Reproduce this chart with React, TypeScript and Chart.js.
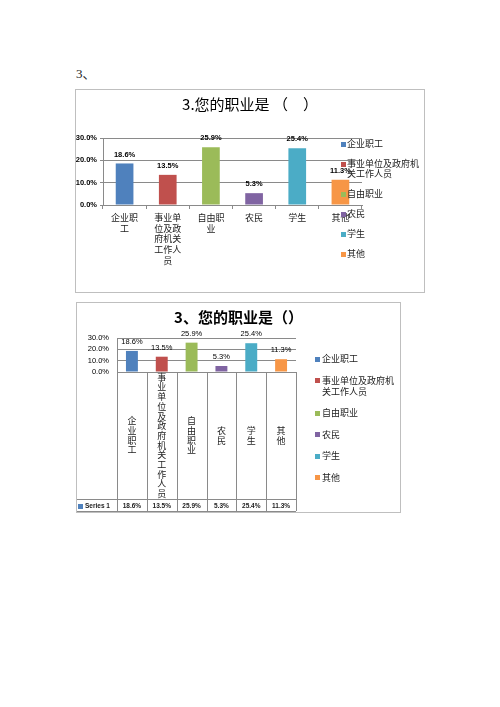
import React, { useEffect, useRef } from 'react';
import { Chart, registerables } from 'chart.js';

Chart.register(...registerables);

// --- data ---
const categories = ['企业职工', '事业单位及政府机关工作人员', '自由职业', '农民', '学生', '其他'];
const shares = [18.6, 13.5, 25.9, 5.3, 25.4, 11.3];
const barColors = ['#4F81BD', '#C0504D', '#9BBB59', '#8064A2', '#4BACC6', '#F79646'];
const yTicks = [0, 10, 20, 30];
const seriesName = 'Series 1';
const title1 = '3.您的职业是 （　）';
const title2 = '3、您的职业是（）';

const SANS = "'Liberation Sans', Arial, 'Noto Sans CJK SC', sans-serif";
const CJK = "'Noto Sans CJK SC', sans-serif";
const GRID = '#8a8a8a';

const chunk = (s: string, n: number) => {
  const out: string[] = [];
  for (let i = 0; i < s.length; i += n) out.push(s.slice(i, i + n));
  return out;
};
const pct = (v: number) => Number(v).toFixed(1) + '%';

// value above each bar
const valueLabels = {
  id: 'valueLabels',
  afterDatasetsDraw(chart: any, _a: any, o: any) {
    const { ctx } = chart;
    const meta = chart.getDatasetMeta(0);
    ctx.save();
    ctx.font = o.font;
    ctx.fillStyle = '#000';
    ctx.textAlign = 'center';
    ctx.textBaseline = 'middle';
    meta.data.forEach((bar: any, i: number) => {
      ctx.fillText(pct(chart.data.datasets[0].data[i]), bar.x, bar.y - o.offset);
    });
    ctx.restore();
  },
};

// legend on the right, one entry per category (Excel "vary colors by point")
const sideLegend = {
  id: 'sideLegend',
  afterDraw(chart: any, _a: any, o: any) {
    const { ctx } = chart;
    ctx.save();
    ctx.font = o.font;
    ctx.textAlign = 'left';
    ctx.textBaseline = 'middle';
    let y = o.top;
    categories.forEach((c, i) => {
      const lines = chunk(c, o.wrap);
      ctx.fillStyle = barColors[i];
      ctx.fillRect(o.x, Math.round(y - o.box / 2), o.box, o.box);
      ctx.fillStyle = '#222';
      lines.forEach((l, k) => ctx.fillText(l, o.x + o.box + o.gap, y + k * o.lineH));
      y += lines.length * o.lineH + o.itemGap;
    });
    ctx.restore();
  },
};

// data table under the second chart
const dataTable = {
  id: 'dataTable',
  afterDraw(chart: any, _a: any, o: any) {
    const { ctx, chartArea: ca } = chart;
    const x = chart.scales.x;
    const n = categories.length;
    const w = (ca.right - ca.left) / n;
    ctx.save();
    ctx.strokeStyle = GRID;
    ctx.lineWidth = 1;
    ctx.beginPath();
    for (let i = 0; i <= n; i++) {
      const px = Math.round(ca.left + i * w) + 0.5;
      ctx.moveTo(px, ca.bottom);
      ctx.lineTo(px, o.rowBottom);
    }
    ctx.moveTo(0, o.rowTop + 0.5);
    ctx.lineTo(ca.right, o.rowTop + 0.5);
    ctx.moveTo(0, o.rowBottom + 0.5);
    ctx.lineTo(ca.right, o.rowBottom + 0.5);
    ctx.stroke();

    ctx.fillStyle = '#222';
    ctx.textAlign = 'center';
    ctx.textBaseline = 'middle';
    ctx.font = o.labelFont;
    const mid = (ca.bottom + o.rowTop) / 2;
    categories.forEach((c, i) => {
      const chars = chunk(c, 1);
      const cx = x.getPixelForValue(i);
      const y0 = mid - ((chars.length - 1) * o.lineH) / 2;
      chars.forEach((ch, k) => ctx.fillText(ch, cx, y0 + k * o.lineH));
    });

    const rowMid = (o.rowTop + o.rowBottom) / 2 + 1;
    ctx.font = o.valueFont;
    shares.forEach((v, i) => ctx.fillText(pct(v), x.getPixelForValue(i), rowMid));
    ctx.fillStyle = barColors[0];
    ctx.fillRect(1, Math.round(rowMid - 2.5), 5, 5);
    ctx.fillStyle = '#222';
    ctx.textAlign = 'left';
    ctx.fillText(seriesName, 8, rowMid);
    ctx.restore();
  },
};

const setTicks = (s: any) => {
  s.ticks = yTicks.map((v) => ({ value: v }));
};

// empty right-hand axis that just reserves room for the legend,
// so the title stays centred on the whole frame
const spacer = (width: number) => ({
  type: 'linear',
  position: 'right',
  display: true,
  grid: { display: false },
  border: { display: false },
  ticks: { display: false },
  afterFit: (s: any) => { s.width = width; },
});

const config1 = (): any => ({
  type: 'bar',
  data: {
    labels: categories.map((c) => chunk(c, 3)),
    datasets: [
      { label: seriesName, data: shares, backgroundColor: barColors, barPercentage: 0.41, categoryPercentage: 1 },
    ],
  },
  options: {
    animation: false,
    responsive: true,
    maintainAspectRatio: false,
    layout: { padding: 0 },
    plugins: {
      legend: { display: false },
      tooltip: { enabled: false },
      title: {
        display: true,
        text: title1,
        color: '#000',
        font: { family: CJK, size: 15, weight: 'normal', lineHeight: 1.2 },
        padding: { top: 5, bottom: 25 },
      },
      valueLabels: { font: `bold 7.5px ${SANS}`, offset: 9 },
      sideLegend: { x: 265, top: 54, box: 5, gap: 1, lineH: 10, itemGap: 10, wrap: 8, font: `9px ${CJK}` },
    },
    scales: {
      x: {
        grid: { display: true, drawOnChartArea: false, tickLength: 4, color: GRID, offset: true },
        border: { color: GRID },
        ticks: { font: { family: CJK, size: 9, lineHeight: 1.2 }, color: '#222', padding: 3, maxRotation: 0, autoSkip: false },
        afterFit: (s: any) => { s.height = 87; },
      },
      y: {
        min: 0,
        max: 30,
        afterBuildTicks: setTicks,
        grid: { color: GRID, tickLength: 3 },
        border: { color: GRID },
        ticks: { font: { family: SANS, size: 7.5, weight: 'bold' }, color: '#000', padding: 3, autoSkip: false, callback: (v: any) => pct(v) },
        afterFit: (s: any) => { s.width = 27; },
      },
      pad: spacer(62),
    },
  },
  plugins: [valueLabels, sideLegend],
});

const config2 = (): any => ({
  type: 'bar',
  data: {
    labels: categories,
    datasets: [
      { label: seriesName, data: shares, backgroundColor: barColors, barPercentage: 0.4, categoryPercentage: 1 },
    ],
  },
  options: {
    animation: false,
    responsive: true,
    maintainAspectRatio: false,
    layout: { padding: 0 },
    plugins: {
      legend: { display: false },
      tooltip: { enabled: false },
      title: {
        display: true,
        text: title2,
        color: '#000',
        font: { family: CJK, size: 15, weight: 'bold', lineHeight: 1.2 },
        padding: { top: 5, bottom: 12 },
      },
      valueLabels: { font: `7.5px ${SANS}`, offset: 9 },
      sideLegend: { x: 238, top: 56, box: 5, gap: 2, lineH: 11, itemGap: 10.5, wrap: 8, font: `9px ${CJK}` },
      dataTable: { rowTop: 196, rowBottom: 208, lineH: 9.7, labelFont: `9px ${CJK}`, valueFont: `bold 6.5px ${SANS}` },
    },
    scales: {
      x: {
        grid: { display: false },
        border: { color: GRID },
        ticks: { display: false },
        afterFit: (s: any) => { s.height = 140; },
      },
      y: {
        min: 0,
        max: 30,
        afterBuildTicks: setTicks,
        grid: { color: GRID, drawTicks: false },
        border: { color: GRID },
        ticks: { font: { family: SANS, size: 7.5 }, color: '#000', padding: 8, autoSkip: false, callback: (v: any) => pct(v) },
        afterFit: (s: any) => { s.width = 40; },
      },
      pad: spacer(104),
    },
  },
  plugins: [valueLabels, sideLegend, dataTable],
});

function ChartBox({ x, y, w, h, build }: { x: number; y: number; w: number; h: number; build: () => any }) {
  const ref = useRef<HTMLCanvasElement>(null);
  useEffect(() => {
    if (!ref.current) return;
    const chart = new Chart(ref.current, build());
    return () => chart.destroy();
  }, []);
  return (
    <div
      style={{
        position: 'absolute',
        left: x,
        top: y,
        width: w,
        height: h,
        border: '1px solid #bfbfbf',
        boxSizing: 'border-box',
        background: '#fff',
      }}
    >
      <div style={{ position: 'relative', width: '100%', height: '100%' }}>
        <canvas ref={ref} />
      </div>
    </div>
  );
}

export default function App() {
  return (
    <div style={{ position: 'fixed', left: 0, top: 0, width: 500, height: 707, background: '#fff' }}>
      <div
        style={{
          position: 'absolute',
          left: 76,
          top: 67,
          fontFamily: "'Liberation Serif', 'Noto Sans CJK SC', serif",
          fontSize: 13,
          lineHeight: '14px',
          color: '#222',
        }}
      >
        3、
      </div>
      <ChartBox x={75} y={89} w={350} h={204} build={config1} />
      <ChartBox x={76} y={302} w={325} h={211} build={config2} />
    </div>
  );
}
